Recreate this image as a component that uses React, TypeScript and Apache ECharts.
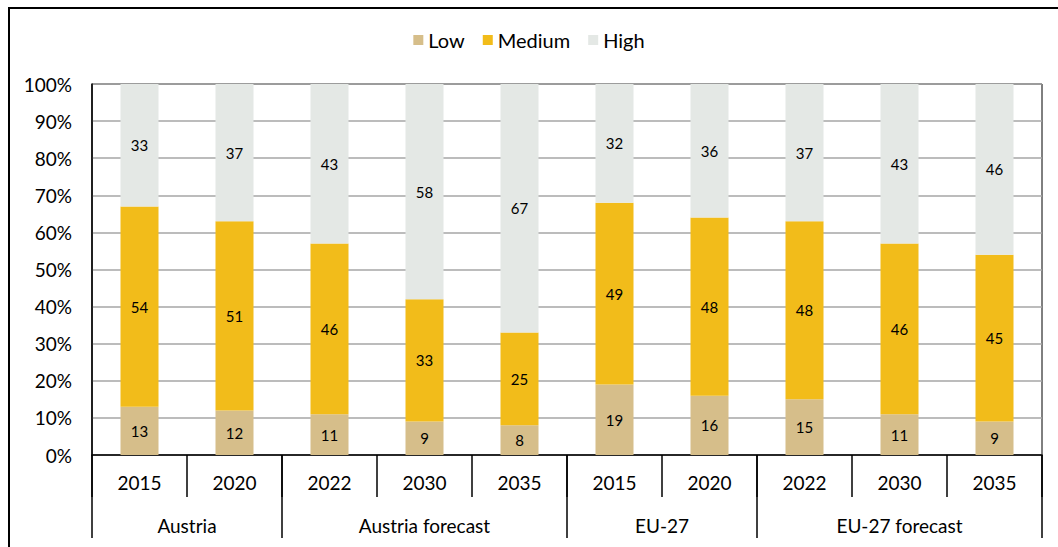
import React, { useEffect, useRef } from "react";
import * as echarts from "echarts";

// Years on the lower axis, one bar per entry
const years = ["2015", "2020", "2022", "2030", "2035", "2015", "2020", "2022", "2030", "2035"];

// Region groups shown below the years, each spanning consecutive bars
const groupNames = ["Austria", "Austria forecast", "EU-27", "EU-27 forecast"];
const groupSpans = [2, 3, 2, 3];

// Share of each level, in percent
const lowValues = [13, 12, 11, 9, 8, 19, 16, 15, 11, 9];
const mediumValues = [54, 51, 46, 33, 25, 49, 48, 48, 46, 45];
const highValues = [33, 37, 43, 58, 67, 32, 36, 37, 43, 46];

const yTicks = { min: 0, max: 100, interval: 10 };

const COLORS = { low: "#D6BE8A", medium: "#F2BC1A", high: "#E4E8E5" };
const FONT = "Lato, 'Noto Sans', sans-serif";

export default function App() {
  const ref = useRef<HTMLDivElement>(null);

  useEffect(() => {
    if (!ref.current) return;
    const chart = echarts.init(ref.current, undefined, { renderer: "svg" });

    // Group axis: 2n+1 slots on a boundary-aligned axis, so slot k sits at k/2 bars
    const slotCount = years.length * 2 + 1;
    const slotLabels: string[] = new Array(slotCount).fill("");
    const boundarySlots = new Set<number>([0]);
    let start = 0;
    groupNames.forEach((name, i) => {
      const span = groupSpans[i];
      slotLabels[start * 2 + span] = name;
      start += span;
      boundarySlots.add(start * 2);
    });

    const makeSeries = (name: string, data: number[], color: string) => ({
      name,
      type: "bar",
      stack: "total",
      xAxisIndex: 0,
      barWidth: "40%",
      data,
      itemStyle: { color },
      label: {
        show: true,
        position: "inside",
        color: "#000",
        fontSize: 15,
        fontFamily: FONT,
      },
      emphasis: { disabled: true },
    });

    chart.setOption({
      animation: false,
      textStyle: { fontFamily: FONT },
      legend: {
        top: 25,
        left: "center",
        icon: "rect",
        itemWidth: 10,
        itemHeight: 10,
        itemGap: 18,
        textStyle: { fontSize: 20, color: "#000", fontFamily: FONT },
        data: ["Low", "Medium", "High"],
      },
      grid: {
        left: 92,
        right: 16,
        top: 84,
        bottom: 92,
        show: true,
        borderColor: "#000",
        borderWidth: 1,
      },
      xAxis: [
        {
          type: "category",
          data: years,
          position: "bottom",
          axisLine: { show: true, lineStyle: { color: "#000", width: 1.5 } },
          axisTick: { show: true, interval: 0, length: 42, lineStyle: { color: "#000", width: 1.5 } },
          axisLabel: { interval: 0, margin: 18, fontSize: 19, color: "#000", fontFamily: FONT },
        },
        {
          type: "category",
          data: slotLabels,
          position: "bottom",
          boundaryGap: false,
          axisLine: { show: false },
          axisTick: {
            show: true,
            interval: (i: number) => boundarySlots.has(i),
            length: 83,
            lineStyle: { color: "#000", width: 1.5 },
          },
          axisLabel: { interval: 0, margin: 61, fontSize: 19, color: "#000", fontFamily: FONT },
        },
      ],
      yAxis: {
        type: "value",
        min: yTicks.min,
        max: yTicks.max,
        interval: yTicks.interval,
        axisLine: { show: true, lineStyle: { color: "#000", width: 1.5 } },
        axisTick: { show: false },
        splitLine: { lineStyle: { color: "#A6A6A6", width: 1.5 } },
        axisLabel: { formatter: "{value}%", margin: 20, fontSize: 19, color: "#000", fontFamily: FONT },
      },
      graphic: [
        {
          type: "rect",
          silent: true,
          z: 100,
          shape: { x: 9, y: 8, width: 1100, height: 600 },
          style: { fill: "none", stroke: "#000", lineWidth: 2 },
        },
      ],
      series: [
        makeSeries("Low", lowValues, COLORS.low),
        makeSeries("Medium", mediumValues, COLORS.medium),
        makeSeries("High", highValues, COLORS.high),
      ],
    });

    return () => chart.dispose();
  }, []);

  return (
    <div
      ref={ref}
      style={{ position: "absolute", left: 0, top: 0, width: 1058, height: 547, background: "#fff" }}
    />
  );
}
